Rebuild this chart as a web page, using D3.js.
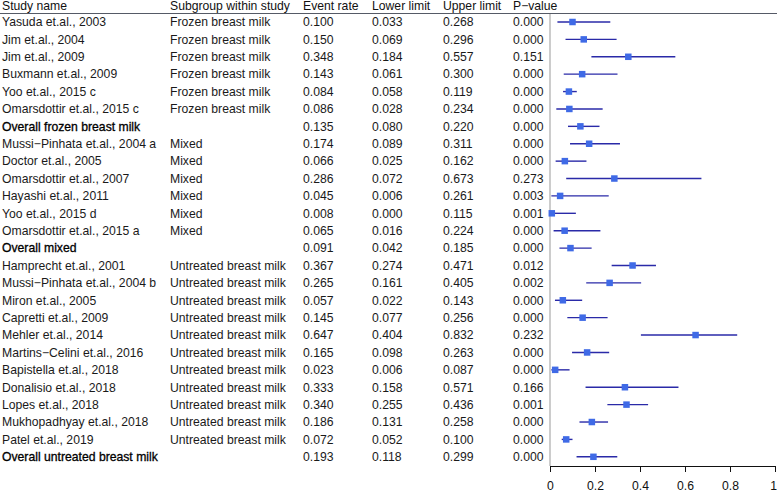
<!DOCTYPE html>
<html><head><meta charset="utf-8">
<script src="https://cdn.jsdelivr.net/npm/d3@7"></script>
<style>body{margin:0;background:#fff}svg{display:block;font-family:"Liberation Sans",Arial,sans-serif}</style>
</head><body><svg id="c" width="777" height="493"></svg>
<script>
const studies = ["Yasuda et.al., 2003","Jim et.al., 2004","Jim et.al., 2009","Buxmann et.al., 2009","Yoo et.al., 2015 c","Omarsdottir et.al., 2015 c","Overall frozen breast milk","Mussi\u2212Pinhata et.al., 2004 a","Doctor et.al., 2005","Omarsdottir et.al., 2007","Hayashi et.al., 2011","Yoo et.al., 2015 d","Omarsdottir et.al., 2015 a","Overall mixed","Hamprecht et.al., 2001","Mussi\u2212Pinhata et.al., 2004 b","Miron et.al., 2005","Capretti et.al., 2009","Mehler et.al., 2014","Martins\u2212Celini et.al., 2016","Bapistella et.al., 2018","Donalisio et.al., 2018","Lopes et.al., 2018","Mukhopadhyay et.al., 2018","Patel et.al., 2019","Overall untreated breast milk"];
const subgroups = ["Frozen breast milk","Frozen breast milk","Frozen breast milk","Frozen breast milk","Frozen breast milk","Frozen breast milk","","Mixed","Mixed","Mixed","Mixed","Mixed","Mixed","","Untreated breast milk","Untreated breast milk","Untreated breast milk","Untreated breast milk","Untreated breast milk","Untreated breast milk","Untreated breast milk","Untreated breast milk","Untreated breast milk","Untreated breast milk","Untreated breast milk",""];
const eventRate = [0.100,0.150,0.348,0.143,0.084,0.086,0.135,0.174,0.066,0.286,0.045,0.008,0.065,0.091,0.367,0.265,0.057,0.145,0.647,0.165,0.023,0.333,0.340,0.186,0.072,0.193];
const lowerLimit = [0.033,0.069,0.184,0.061,0.058,0.028,0.080,0.089,0.025,0.072,0.006,0.000,0.016,0.042,0.274,0.161,0.022,0.077,0.404,0.098,0.006,0.158,0.255,0.131,0.052,0.118];
const upperLimit = [0.268,0.296,0.557,0.300,0.119,0.234,0.220,0.311,0.162,0.673,0.261,0.115,0.224,0.185,0.471,0.405,0.143,0.256,0.832,0.263,0.087,0.571,0.436,0.258,0.100,0.299];
const pValue = ["0.000","0.000","0.151","0.000","0.000","0.000","0.000","0.000","0.000","0.273","0.003","0.001","0.000","0.000","0.012","0.002","0.000","0.000","0.232","0.000","0.000","0.166","0.001","0.000","0.000","0.000"];
const overallRows = ["Overall frozen breast milk","Overall mixed","Overall untreated breast milk"];
const headers = ["Study name","Subgroup within study","Event rate","Lower limit","Upper limit","P\u2212value"];
const xTicks = [0,0.2,0.4,0.6,0.8,1];

const svg = d3.select("#c");
const fs = 12.2;
const colX = [2,170,303,372,443,513];
const y = d3.scaleBand().domain(d3.range(studies.length)).range([13.3, 465.5]).paddingInner(0);
const yc = i => y(i) + y.bandwidth()/2;
const x = d3.scaleLinear().domain([0,1]).range([550,775]);

// headers
svg.selectAll("text.h").data(headers).join("text").attr("class","h")
  .attr("x",(d,i)=>colX[i]).attr("y",6).attr("dy","0.35em")
  .attr("font-size",fs).attr("fill","#111").text(d=>d);
svg.append("line").attr("x1",0).attr("x2",777).attr("y1",13.5).attr("y2",13.5)
  .attr("stroke","#555a66").attr("stroke-width",1.2);

// rows
const rows = svg.selectAll("g.row").data(studies).join("g").attr("class","row")
  .attr("transform",(d,i)=>`translate(0,${yc(i)})`);
rows.each(function(d,i){
  const g = d3.select(this);
  const ov = overallRows.includes(d);
  const vals = [d, subgroups[i], eventRate[i].toFixed(3), lowerLimit[i].toFixed(3), upperLimit[i].toFixed(3), pValue[i]];
  vals.forEach((v,j)=>{
    const t = g.append("text").attr("x",colX[j]).attr("dy","0.35em").attr("font-size",fs)
      .attr("fill", ov && j===0 ? "#000" : "#1a1a1a").text(v);
    if (ov && j===0) t.attr("stroke","#000").attr("stroke-width",0.3);
  });
});

// vertical zero line
svg.append("line").attr("x1",x(0)).attr("x2",x(0)).attr("y1",14).attr("y2",466)
  .attr("stroke","#aaa").attr("stroke-width",1.2);

// CI lines
svg.selectAll("line.ci").data(studies).join("line").attr("class","ci")
  .attr("x1",(d,i)=>x(lowerLimit[i])).attr("x2",(d,i)=>x(upperLimit[i]))
  .attr("y1",(d,i)=>yc(i)).attr("y2",(d,i)=>yc(i))
  .attr("stroke","#2a2aa8").attr("stroke-width",1.4);
// squares
const sq = 6.5;
svg.selectAll("rect.pt").data(studies).join("rect").attr("class","pt")
  .attr("x",(d,i)=>x(eventRate[i])-sq/2).attr("y",(d,i)=>yc(i)-sq/2)
  .attr("width",sq).attr("height",sq).attr("fill","#3f6ae6");

// x axis
const ax = svg.append("g").attr("transform","translate(0,466)")
  .call(d3.axisBottom(x).tickValues(xTicks).tickFormat(d3.format("~g")).tickSize(6).tickSizeOuter(0));
ax.select(".domain").attr("stroke","#111");
ax.selectAll(".tick line").attr("stroke","#111");
ax.selectAll(".tick text").attr("font-size",fs).attr("font-family","Liberation Sans, Arial, sans-serif").attr("fill","#111").attr("y",15)
  .attr("dx", d => d === 1 ? -1.8 : 0);
</script></body></html>
